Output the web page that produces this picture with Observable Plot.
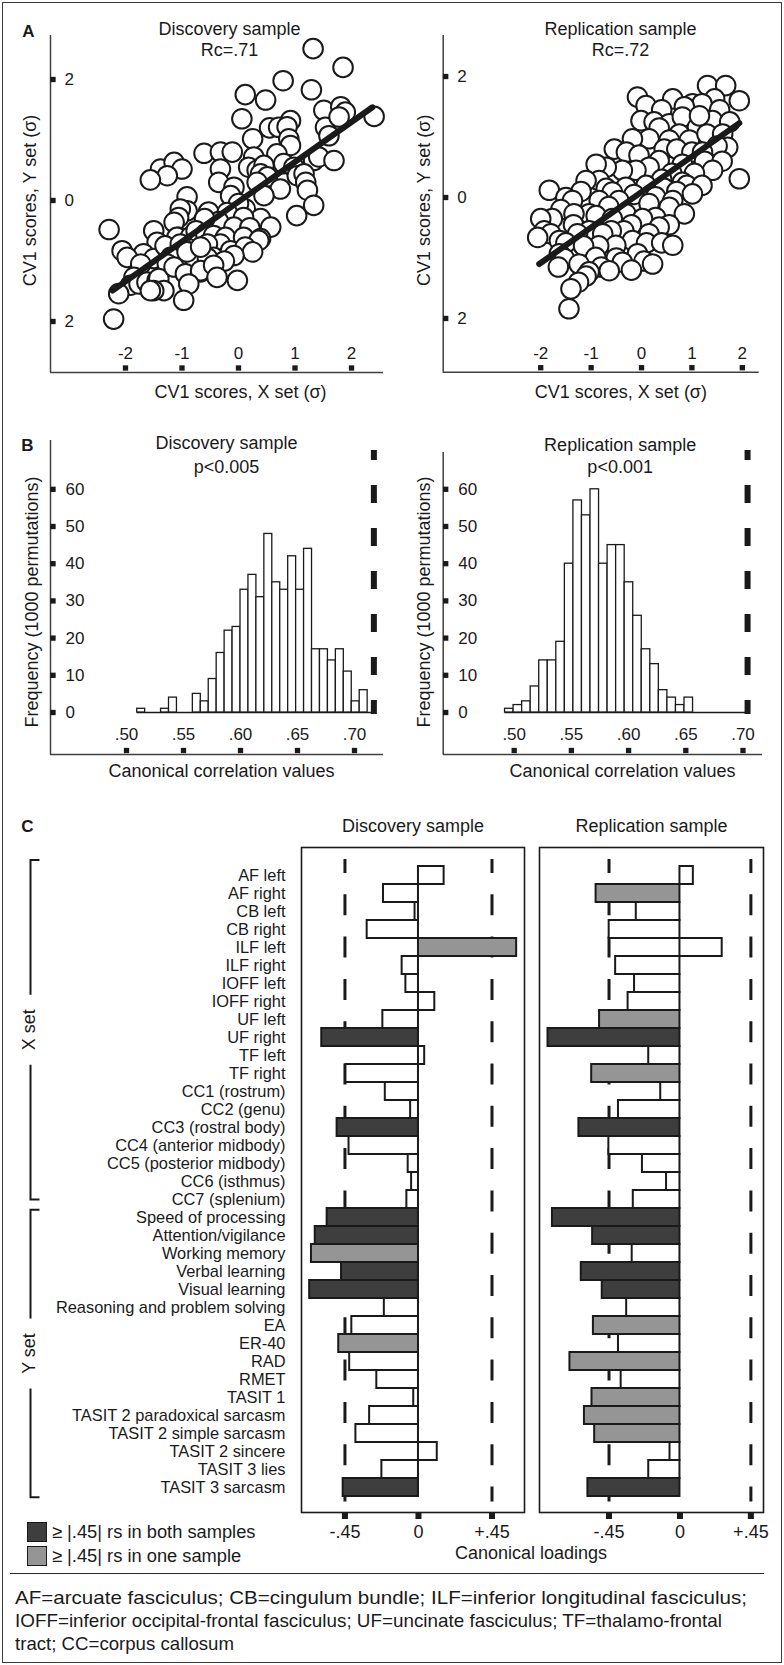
<!DOCTYPE html>
<html lang="en">
<head>
<meta charset="utf-8">
<title>Canonical correlation figure</title>
<script src="https://cdn.jsdelivr.net/npm/d3@7"></script>
<script src="https://cdn.jsdelivr.net/npm/@observablehq/plot@0.6"></script>
<style>
  html, body { margin: 0; padding: 0; background: #fff; }
  #fig { position: relative; width: 784px; height: 1665px; overflow: hidden;
         font-family: "Liberation Sans", Arial, Helvetica, sans-serif; color: #1a1a1a; }
  #fig svg { overflow: visible; }
  .txt { position: absolute; white-space: nowrap; line-height: 1; }
</style>
</head>
<body>
<div id="fig"></div>
<script>
// ---------------- DATA ----------------
// Panel A: CV1 scores [x, y] in sigma units
const discScores = [
[1.32,2.51],[1.85,2.20],[0.79,1.98],[1.29,1.83],[0.12,1.75],[0.48,1.66],[1.51,1.49],[1.81,1.55],[1.89,1.46],[2.40,1.39],
[0.06,1.35],[0.92,1.32],[0.55,1.20],[0.71,1.21],[0.86,1.22],[1.54,1.21],[1.60,1.07],[1.78,1.38],[0.25,1.02],[0.89,1.02],
[0.92,0.91],[-0.61,0.78],[-0.32,0.80],[-0.11,0.80],[0.68,0.77],[1.33,0.66],[1.42,0.72],[1.69,0.66],[0.27,0.72],[-1.38,0.52],
[-1.14,0.63],[-1.00,0.52],[-1.26,0.41],[-1.56,0.34],[-0.32,0.52],[0.18,0.55],[0.33,0.50],[0.45,0.58],[0.80,0.61],[0.98,0.55],
[1.04,0.41],[1.16,0.44],[-0.35,0.30],[0.39,0.44],[0.51,0.39],[0.33,0.30],[1.19,0.30],[1.22,0.17],[0.74,0.19],[0.45,0.08],
[-0.08,0.22],[-0.91,0.06],[-0.14,0.08],[0.12,-0.14],[0.00,-0.05],[1.33,-0.08],[1.03,-0.25],[-0.91,-0.17],[-1.03,-0.14],[-0.53,-0.19],
[-0.20,-0.20],[-1.06,-0.28],[-1.14,-0.36],[0.39,-0.30],[0.09,-0.28],[0.57,-0.44],[-2.29,-0.48],[-1.50,-0.50],[-0.50,-0.41],[-0.35,-0.35],
[-0.60,-0.30],[-0.08,-0.50],[-0.08,-0.44],[0.20,-0.45],[-1.44,-0.69],[-1.06,-0.61],[-1.09,-0.61],[-0.85,-0.60],[-0.75,-0.50],[-0.58,-0.55],
[-0.44,-0.58],[-0.23,-0.61],[-0.32,-0.72],[-0.55,-0.72],[0.09,-0.61],[0.39,-0.63],[0.36,-0.66],[-2.06,-0.83],[-1.68,-0.88],[-1.97,-0.94],
[-1.50,-0.96],[-1.23,-0.88],[-1.30,-0.75],[-1.03,-0.72],[-1.20,-0.94],[-0.79,-0.94],[-0.44,-0.94],[-0.55,-0.95],[-0.14,-0.83],[0.12,-0.77],
[0.25,-0.85],[-0.91,-0.85],[-0.67,-0.77],[-0.08,-0.91],[-0.25,-1.00],[-1.73,-1.05],[-1.26,-1.05],[-1.85,-1.27],[-1.91,-1.40],[-1.76,-1.38],
[-2.12,-1.54],[-1.62,-1.35],[-1.44,-1.32],[-1.41,-1.29],[-1.14,-1.10],[-0.94,-1.21],[-0.67,-1.18],[-0.67,-1.16],[-0.44,-1.07],[-0.02,-1.32],
[-1.32,-1.49],[-1.50,-1.49],[-1.56,-1.49],[-0.88,-1.38],[-0.38,-1.27],[-0.97,-1.65],[-2.21,-1.96]
];
const repScores = [
[-0.08,1.66],[0.09,1.52],[0.62,1.63],[1.01,1.55],[1.31,1.85],[1.67,1.85],[1.45,1.63],[1.94,1.60],[1.20,1.55],[1.55,1.45],
[0.85,1.50],[0.40,1.45],[-0.01,1.27],[0.25,1.25],[0.55,1.22],[0.81,1.33],[1.11,1.16],[1.41,1.27],[1.75,1.25],[1.15,1.35],
[0.35,1.15],[0.75,1.05],[0.15,0.97],[-0.18,0.97],[0.55,0.95],[0.95,0.95],[1.30,1.05],[1.61,1.05],[1.71,0.83],[1.50,0.85],
[-0.54,0.80],[-0.30,0.75],[-0.05,0.70],[0.45,0.80],[0.70,0.80],[1.00,0.75],[1.21,0.75],[1.25,0.60],[1.60,0.60],[0.81,0.55],
[0.35,0.61],[0.15,0.50],[-0.11,0.45],[-0.38,0.45],[-0.70,0.50],[-0.90,0.55],[1.41,0.45],[1.94,0.31],[1.05,0.40],[0.60,0.40],
[0.40,0.30],[0.81,0.25],[0.90,0.20],[1.20,0.20],[-0.84,0.28],[-1.10,0.28],[0.09,0.20],[-0.31,0.17],[-0.70,0.15],[0.45,0.15],
[-1.83,0.12],[-1.20,0.10],[-0.58,0.09],[0.70,0.10],[-0.15,0.05],[1.01,0.06],[0.28,0.01],[-1.50,0.00],[-0.45,-0.05],[-0.84,-0.05],
[-1.37,-0.05],[0.62,-0.05],[0.15,-0.10],[-0.65,-0.15],[0.55,-0.16],[-1.60,-0.20],[-1.04,-0.27],[-1.34,-0.27],[-0.31,-0.27],[0.85,-0.27],
[-0.90,-0.30],[0.28,-0.33],[-1.77,-0.35],[-2.00,-0.35],[-0.58,-0.35],[0.02,-0.35],[-1.35,-0.45],[-0.20,-0.45],[0.55,-0.45],[0.35,-0.49],
[-1.93,-0.55],[-1.04,-0.55],[-0.35,-0.55],[-0.60,-0.55],[-1.80,-0.60],[-1.27,-0.60],[-0.77,-0.60],[0.15,-0.60],[-2.06,-0.66],[-1.63,-0.71],
[-0.18,-0.71],[-1.50,-0.75],[0.10,-0.75],[0.40,-0.75],[-0.51,-0.79],[0.62,-0.79],[-0.85,-0.80],[-1.15,-0.80],[-1.63,-0.93],[-0.08,-0.93],
[-0.91,-0.99],[-0.50,-1.00],[-1.53,-1.01],[0.05,-1.05],[-0.38,-1.07],[-1.24,-1.10],[0.22,-1.10],[-1.65,-1.15],[-0.80,-1.15],[-0.20,-1.20],
[-0.64,-1.21],[-1.04,-1.23],[-1.10,-1.30],[-1.25,-1.40],[-1.40,-1.51],[-1.44,-1.84]
];
// regression line end points [x, y]
const discFit = [[-2.23,-1.49],[2.37,1.54]];
const repFit  = [[-2.03,-1.10],[1.94,1.23]];
const scoreXTicks = [-2, -1, 0, 1, 2];
const scoreYTicks = [2, 0, -2];
const scoreYTickLabels = ["2", "0", "2"];

// Panel B: permutation histograms
const discHistStart = 0.5094, discHistWidth = 0.00697;
const discHistCounts = [1,0,0,1,4,0,0,5,3,9,16,22,23,33,37,31,48,35,33,42,33,44,17,17,14,17,11,3,6];
const repHistStart = 0.492, repHistWidth = 0.00747;
const repHistCounts = [1,2,3,7,14,14,19,40,57,53,60,40,45,45,35,26,17,13,6,4,2,4];
const discObserved = 0.717, repObserved = 0.704;
const freqTicks = [0, 10, 20, 30, 40, 50, 60];
const corrTicks = [0.50, 0.55, 0.60, 0.65, 0.70];
const corrTickLabels = [".50", ".55", ".60", ".65", ".70"];

// Panel C: canonical loadings
const xSetRows = ["AF left","AF right","CB left","CB right","ILF left","ILF right","IOFF left","IOFF right",
  "UF left","UF right","TF left","TF right","CC1 (rostrum)","CC2 (genu)","CC3 (rostral body)",
  "CC4 (anterior midbody)","CC5 (posterior midbody)","CC6 (isthmus)","CC7 (splenium)"];
const ySetRows = ["Speed of processing","Attention/vigilance","Working memory","Verbal learning","Visual learning",
  "Reasoning and problem solving","EA","ER-40","RAD","RMET","TASIT 1","TASIT 2 paradoxical sarcasm",
  "TASIT 2 simple sarcasm","TASIT 2 sincere","TASIT 3 lies","TASIT 3 sarcasm"];
const discLoadings = [0.157,-0.214,-0.021,-0.314,0.601,-0.100,-0.077,0.100,-0.218,-0.592,0.038,-0.444,-0.203,-0.048,
  -0.498,-0.425,-0.063,-0.042,-0.071,-0.559,-0.632,-0.655,-0.471,-0.666,-0.209,-0.408,-0.488,-0.421,-0.255,-0.029,
  -0.299,-0.383,0.115,-0.224,-0.461];
const repLoadings = [0.085,-0.532,-0.277,-0.449,0.268,-0.408,-0.288,-0.329,-0.510,-0.837,-0.198,-0.560,-0.122,-0.390,
  -0.641,-0.451,-0.238,-0.085,-0.296,-0.809,-0.554,-0.303,-0.626,-0.493,-0.338,-0.549,-0.390,-0.698,-0.373,-0.558,
  -0.606,-0.541,-0.063,-0.198,-0.584];
// n = below |.45|, o = >= |.45| in one sample, b = >= |.45| in both samples
const discClass = ["n","n","n","n","o","n","n","n","n","b","n","n","n","n","b","n","n","n","n",
  "b","b","o","b","b","n","n","o","n","n","n","n","n","n","n","b"];
const repClass  = ["n","o","n","n","n","n","n","n","o","b","n","o","n","n","b","n","n","n","n",
  "b","b","n","b","b","n","o","n","o","n","o","o","o","n","n","b"];
const loadingTicks = [-0.45, 0, 0.45];
const loadingTickLabels = ["-.45", "0", "+.45"];
const thresholds = [-0.45, 0.45];
const classDomain = ["n", "o", "b"];
const classColors = ["#ffffff", "#959595", "#3e3e3e"];
const legendItems = [["b", "\u2265 |.45| rs in both samples"], ["o", "\u2265 |.45| rs in one sample"]];
const captionLines = [
  "AF=arcuate fasciculus; CB=cingulum bundle; ILF=inferior longitudinal fasciculus;",
  "IOFF=inferior occipital-frontal fasciculus; UF=uncinate fasciculus; TF=thalamo-frontal",
  "tract; CC=corpus callosum"
];
const captionLineWidths = [732, 707, 219];

// ---------------- DRAWING ----------------
const FONT = '"Liberation Sans", Arial, Helvetica, sans-serif';
const INK = "#1a1a1a";
const AXIS = "#404040";
const fig = document.getElementById("fig");
const baseStyle = {fontFamily: FONT, fontSize: "17px", color: INK, background: "transparent", overflow: "visible"};

function place(node, left, top) {
  node.style.position = "absolute";
  node.style.left = left + "px";
  node.style.top = top + "px";
  fig.appendChild(node);
  return node;
}
function html(text, cx, cy, size, opts = {}) {
  const d = document.createElement("div");
  d.className = "txt";
  d.textContent = text;
  d.style.fontSize = size + "px";
  d.style.fontWeight = opts.weight || "normal";
  d.style.left = cx + "px";
  d.style.top = cy + "px";
  d.style.transform = opts.anchor === "start" ? "translate(0,-50%)" : "translate(-50%,-50%)";
  fig.appendChild(d);
  return d;
}
const T = (o) => ({fill: INK, lineAnchor: "middle", textAnchor: "middle", ...o});

// outer border
const border = document.createElement("div");
Object.assign(border.style, {position: "absolute", left: "2px", top: "2px", width: "780px", height: "1661px",
  border: "1.6px solid #3a3a3a", boxSizing: "border-box"});
fig.appendChild(border);

// ----- Panel A -----
function scatter(o) {
  return Plot.plot({
    width: 392, height: 405,
    marginLeft: o.ml, marginRight: o.mr, marginTop: 35, marginBottom: o.mb,
    x: {domain: o.xDom, axis: null},
    y: {domain: o.yDom, axis: null},
    style: baseStyle,
    marks: [
      Plot.ruleX([o.xDom[0]], {stroke: AXIS, strokeWidth: 1.5}),
      Plot.ruleY([o.yDom[0]], {stroke: AXIS, strokeWidth: 1.5}),
      Plot.dot(scoreYTicks, {y: d => d, frameAnchor: "left", dx: 2.5, symbol: "square", r: 3, fill: INK}),
      Plot.text(scoreYTicks, T({y: d => d, text: (d, i) => scoreYTickLabels[i], frameAnchor: "left", dx: 14, textAnchor: "start", fontSize: 17})),
      Plot.dot(scoreXTicks, {x: d => d, frameAnchor: "bottom", dy: -4.5, symbol: "square", r: 3, fill: INK}),
      Plot.text(scoreXTicks, T({x: d => d, text: d => String(d), frameAnchor: "bottom", dy: -19, fontSize: 17})),
      Plot.dot(o.pts, {x: d => d[0], y: d => d[1], r: 9.8, fill: "white", stroke: INK, strokeWidth: 2}),
      Plot.line(o.fit, {x: d => d[0], y: d => d[1], stroke: INK, strokeWidth: 6}),
      Plot.text([o.title], T({text: d => d, frameAnchor: "top", dx: o.tdx, dy: -6, fontSize: 18})),
      Plot.text([o.rc], T({text: d => d, frameAnchor: "top", dx: o.tdx, dy: 15, fontSize: 18})),
      Plot.text(["CV1 scores, X set (\u03c3)"], T({text: d => d, frameAnchor: "bottom", dx: o.xtdx, dy: 20, fontSize: 18})),
      Plot.text(["CV1 scores, Y set (\u03c3)"], T({text: d => d, frameAnchor: "left", dx: o.ytdx, dy: -3.5, rotate: -90, fontSize: 18}))
    ]
  });
}
place(scatter({ml: 50, mr: 9, mb: 33, xDom: [-3.327, 2.566], yDom: [-2.843, 2.727], pts: discScores, fit: discFit,
  title: "Discovery sample", rc: "Rc=.71", tdx: 12.5, xtdx: 23.5, ytdx: -20}), 0, 0);
place(scatter({ml: 50.7, mr: 25.3, mb: 33.3, xDom: [-3.935, 2.335], yDom: [-2.888, 2.678], pts: repScores, fit: repFit,
  title: "Replication sample", rc: "Rc=.72", tdx: 19.3, xtdx: 19.7, ytdx: -18.7}), 392, 0);

// ----- Panel B -----
function histogram(o) {
  const bins = o.counts.map((c, i) => ({x1: o.start + i * o.width, x2: o.start + (i + 1) * o.width, y1: 0, count: c}))
    .filter(d => d.count > 0);
  return Plot.plot({
    width: 392, height: 380,
    marginLeft: o.ml, marginRight: o.mr, marginTop: o.mt, marginBottom: 31,
    x: {domain: o.xDom, axis: null},
    y: {domain: o.yDom, axis: null},
    style: baseStyle,
    marks: [
      Plot.ruleX([o.xDom[0]], {stroke: AXIS, strokeWidth: 1.5}),
      Plot.ruleY([o.yDom[0]], {stroke: AXIS, strokeWidth: 1.5}),
      Plot.dot(freqTicks, {y: d => d, frameAnchor: "left", dx: 2.5, symbol: "square", r: 3, fill: INK}),
      Plot.text(freqTicks, T({y: d => d, text: d => String(d), frameAnchor: "left", dx: 15, textAnchor: "start", fontSize: 17})),
      Plot.dot(corrTicks, {x: d => d, frameAnchor: "bottom", dy: -4, symbol: "square", r: 3, fill: INK}),
      Plot.text(corrTicks, T({x: d => d, text: (d, i) => corrTickLabels[i], frameAnchor: "bottom", dy: -20, fontSize: 17})),
      Plot.ruleY([{y: 0, x1: o.start, x2: o.obs}], {y: "y", x1: "x1", x2: "x2", stroke: INK, strokeWidth: 1.5}),
      Plot.rect(bins, {x1: "x1", x2: "x2", y1: "y1", y2: "count", fill: "white", stroke: INK, strokeWidth: 1.3}),
      Plot.ruleX([o.obs], {stroke: INK, strokeWidth: 6, strokeDasharray: "18,25", strokeDashoffset: 8, insetTop: o.dashTop, insetBottom: 40}),
      Plot.text([o.title], T({text: d => d, frameAnchor: "top", dx: o.tdx, dy: o.tdy, fontSize: 18})),
      Plot.text([o.p], T({text: d => d, frameAnchor: "top", dx: o.tdx, dy: o.pdy, fontSize: 18})),
      Plot.text(["Canonical correlation values"], T({text: d => d, frameAnchor: "bottom", dx: o.xtdx, dy: 16.5, fontSize: 18})),
      Plot.text(["Frequency (1000 permutations)"], T({text: d => d, frameAnchor: "left", dx: o.ytdx, dy: o.ytdy, rotate: -90, fontSize: 18}))
    ]
  });
}
place(histogram({ml: 50, mr: 9, mt: 35, xDom: [0.43333, 0.72544], yDom: [-11.29, 73.12],
  start: discHistStart, width: discHistWidth, counts: discHistCounts, obs: discObserved, dashTop: 10,
  title: "Discovery sample", p: "p<0.005", tdx: 9.5, tdy: 3, pdy: 27, xtdx: 4.5, ytdx: -18, ytdy: 4.5}), 0, 405);
place(histogram({ml: 50.7, mr: 22, mt: 47, xDom: [0.43794, 0.71705], yDom: [-11.29, 69.89],
  start: repHistStart, width: repHistWidth, counts: repHistCounts, obs: repObserved, dashTop: -2,
  title: "Replication sample", p: "p<0.001", tdx: 17.3, tdy: -7.4, pdy: 15, xtdx: 19.6, ytdx: -18.7, ytdy: -1.5}), 392, 405);

// ----- Panel C -----
const rows = xSetRows.concat(ySetRows);
const rowRange = [12, 656.4];
const rowBand = d3.scaleBand(rows, rowRange).padding(0);
const yRows = {type: "band", domain: rows, range: rowRange, padding: 0, axis: null};

const labelSvg = Plot.plot({
  width: 301, height: 665, marginLeft: 0, marginRight: 0, marginTop: 0, marginBottom: 0,
  y: yRows,
  style: baseStyle,
  marks: [
    Plot.text(rows, T({y: d => d, text: d => d, frameAnchor: "right", dx: -16, textAnchor: "end", fontSize: 16.4}))
  ]
});
// set brackets (X set / Y set), positioned with the same band scale
const setGroups = [
  {label: "X set", first: xSetRows[0], last: xSetRows[xSetRows.length - 1], extra: 0},
  {label: "Y set", first: ySetRows[0], last: ySetRows[ySetRows.length - 1], extra: 3}
];
const bg = d3.select(labelSvg).append("g");
for (const s of setGroups) {
  const top = rowBand(s.first) + 1;
  const bottom = rowBand(s.last) + rowBand.bandwidth() / 2 + s.extra;
  const mid = (top + bottom) / 2, x = 30.5, tick = 9, gap = 35;
  bg.append("path")
    .attr("d", `M${x + tick},${top}H${x}V${mid - gap}M${x},${mid + gap}V${bottom}H${x + tick}`)
    .attr("fill", "none").attr("stroke", INK).attr("stroke-width", 2);
  bg.append("text").attr("transform", `translate(${x - 1.5},${mid}) rotate(-90)`)
    .attr("text-anchor", "middle").attr("dy", "0.35em").attr("font-size", 18).attr("fill", INK)
    .attr("font-family", FONT).text(s.label);
}
place(labelSvg, 0, 847);

function loadingPlot(o) {
  const data = rows.map((row, i) => ({row, zero: 0, value: o.values[i], cls: o.cls[i]}));
  return Plot.plot({
    width: o.width, height: 715,
    marginLeft: 0, marginRight: 0, marginTop: 0, marginBottom: 50,
    x: {domain: o.xDom, axis: null},
    y: yRows,
    color: {type: "ordinal", domain: classDomain, range: classColors},
    style: baseStyle,
    marks: [
      Plot.frame({stroke: INK, strokeWidth: 1.6}),
      Plot.ruleX(thresholds, {stroke: INK, strokeWidth: 3, strokeDasharray: "21,21.3", strokeDashoffset: 7, insetTop: 12, insetBottom: 10.5}),
      Plot.barX(data, {y: "row", x1: "zero", x2: "value", fill: "cls", stroke: INK, strokeWidth: 2}),
      Plot.dot(loadingTicks, {x: d => d, frameAnchor: "bottom", dy: 3.5, symbol: "square", r: 3.4, fill: INK}),
      Plot.text(loadingTicks, T({x: d => d, text: (d, i) => loadingTickLabels[i], frameAnchor: "bottom", dy: 19.7, fontSize: 18})),
      Plot.text([o.title], T({text: d => d, frameAnchor: "top", dy: -21.3, fontSize: 18}))
    ]
  });
}
place(loadingPlot({width: 223, xDom: [-0.716, 0.649], values: discLoadings, cls: discClass, title: "Discovery sample"}), 301, 847);
place(loadingPlot({width: 224, xDom: [-0.891, 0.530], values: repLoadings, cls: repClass, title: "Replication sample"}), 539, 847);

html("Canonical loadings", 531, 1553, 18);

// legend
legendItems.forEach(([cls, text], i) => {
  const cy = 1531.7 + i * 24.3;
  const sw = document.createElement("div");
  Object.assign(sw.style, {position: "absolute", left: "27px", top: (cy - 10) + "px", width: "20px", height: "20px",
    boxSizing: "border-box", border: "1.3px solid #1a1a1a", background: classColors[classDomain.indexOf(cls)]});
  fig.appendChild(sw);
  html(text, 52, cy, 18.3, {anchor: "start"});
});

// separator and caption
const sep = document.createElement("div");
Object.assign(sep.style, {position: "absolute", left: "10px", top: "1573px", width: "754px", height: "0",
  borderTop: "1.6px solid #2a2a2a"});
fig.appendChild(sep);
const cap = d3.create("svg").attr("width", 770).attr("height", 80)
  .style("position", "absolute").style("left", "0px").style("top", "1585px").style("overflow", "visible");
captionLines.forEach((line, i) => {
  cap.append("text").attr("x", 15).attr("y", 12 + i * 23).attr("dy", "0.35em")
    .attr("font-family", FONT).attr("font-size", 19).attr("fill", INK)
    .attr("textLength", captionLineWidths[i]).attr("lengthAdjust", "spacingAndGlyphs")
    .text(line);
});
fig.appendChild(cap.node());

// panel letters
html("A", 28.5, 31, 17, {weight: "bold"});
html("B", 27.5, 445, 17, {weight: "bold"});
html("C", 27.5, 826, 17, {weight: "bold"});
</script>
</body>
</html>
